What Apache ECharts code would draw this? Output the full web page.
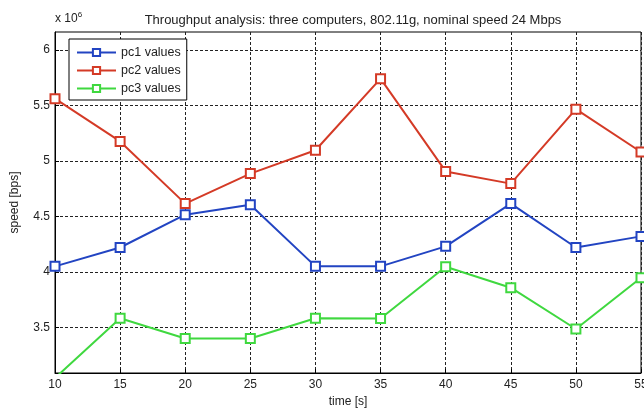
<!DOCTYPE html>
<html>
<head>
<meta charset="utf-8">
<script src="https://cdn.jsdelivr.net/npm/echarts@6/dist/echarts.min.js"></script>
<style>
  html, body { margin: 0; padding: 0; background: #fff; }
  #chart { width: 644px; height: 412px; }
</style>
</head>
<body>
<div id="chart"></div>
<script>
// time axis (s)
var times = [10, 15, 20, 25, 30, 35, 40, 45, 50, 55];
// speeds, in units of 10^6 bps
var pc1 = [4.05, 4.22, 4.515, 4.605, 4.05, 4.05, 4.23, 4.615, 4.22, 4.32];
var pc2 = [5.56, 5.175, 4.615, 4.885, 5.095, 5.74, 4.905, 4.795, 5.465, 5.08];
var pc3 = [3.045, 3.583, 3.40, 3.40, 3.583, 3.58, 4.047, 3.858, 3.486, 3.947];
var yTicks = [3.5, 4, 4.5, 5, 5.5, 6];
var yMin = 3.09, yMax = 6.16;

var font = 'Liberation Sans, Arial, sans-serif';

function pairs(xs, ys) {
    return xs.map(function (x, i) {
        var item = { value: [x, ys[i]] };
        // marker outside the visible range is not drawn (as in the source plot)
        if (ys[i] < yMin || ys[i] > yMax) item.symbol = 'none';
        return item;
    });
}

function lineSeries(name, color, values) {
    return {
        name: name,
        type: 'line',
        data: pairs(times, values),
        symbol: 'emptyRect',
        symbolSize: 9,
        showAllSymbol: true,
        clip: true,
        lineStyle: { color: color, width: 2 },
        itemStyle: { color: color, borderColor: color, borderWidth: 1.6 },
        emphasis: { disabled: true },
        animation: false
    };
}

var myChart = echarts.init(document.getElementById('chart'));
var option = {
    backgroundColor: '#fff',
    animation: false,
    textStyle: { fontFamily: font },
    title: {
        text: 'Throughput analysis: three computers, 802.11g, nominal speed 24 Mbps',
        left: 348,
        top: 9,
        textAlign: 'center',
        textStyle: { fontFamily: font, fontSize: 13, fontWeight: 'normal', color: '#222' }
    },
    graphic: [{
        type: 'text',
        left: 55,
        top: 11,
        style: {
            text: 'x 10{s|6}',
            font: '12px ' + font,
            fill: '#222',
            rich: { s: { fontSize: 8, verticalAlign: 'top', padding: [0, 0, 8, 0] } }
        }
    }],
    legend: {
        orient: 'vertical',
        left: 69,
        top: 39,
        padding: [7, 6, 5, 7],
        itemWidth: 39,
        itemHeight: 9,
        itemGap: 5,
        backgroundColor: '#fff',
        borderColor: '#000',
        borderWidth: 1,
        borderRadius: 0,
        textStyle: { fontFamily: font, fontSize: 12.5, color: '#222' },
        data: ['pc1 values', 'pc2 values', 'pc3 values']
    },
    grid: {
        left: 55,
        right: 3,
        top: 32,
        bottom: 39,
        outerBoundsMode: 'none',
        containLabel: false,
        show: true,
        borderColor: '#000',
        borderWidth: 1
    },
    xAxis: {
        type: 'value',
        min: 10,
        max: 55,
        interval: 5,
        name: 'time [s]',
        nameLocation: 'middle',
        nameGap: 22,
        nameTextStyle: { fontFamily: font, fontSize: 12, color: '#222' },
        axisLine: { lineStyle: { color: '#000', width: 1 } },
        axisTick: { inside: true, length: 4, lineStyle: { color: '#000' } },
        axisLabel: { fontFamily: font, fontSize: 12, color: '#222', margin: 6, showMaxLabel: true, hideOverlap: false },
        splitLine: { show: true, lineStyle: { color: '#222', type: [3, 2], width: 1 } }
    },
    yAxis: {
        type: 'value',
        min: yMin,
        max: yMax,
        name: 'speed [bps]',
        nameLocation: 'middle',
        nameGap: 34,
        nameTextStyle: { fontFamily: font, fontSize: 12, color: '#222' },
        axisLine: { show: true, lineStyle: { color: '#000', width: 1 } },
        axisTick: { show: true, inside: true, length: 4, customValues: yTicks, lineStyle: { color: '#000' } },
        axisLabel: { fontFamily: font, fontSize: 12, color: '#222', margin: 5, customValues: yTicks },
        splitLine: { show: true, lineStyle: { color: '#222', type: [3, 2], width: 1 } }
    },
    series: [
        lineSeries('pc1 values', '#2244c2', pc1),
        lineSeries('pc2 values', '#d43a26', pc2),
        lineSeries('pc3 values', '#3fd83f', pc3)
    ]
};

myChart.setOption(option);

window.onresize = function () {
    myChart.resize();
};
</script>
</body>
</html>
